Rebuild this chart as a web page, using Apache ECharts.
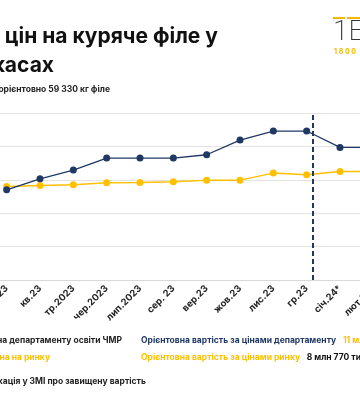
<!DOCTYPE html>
<html>
<head>
<meta charset="utf-8">
<script src="https://cdn.jsdelivr.net/npm/echarts@6/dist/echarts.min.js"></script>
<style>
html,body{margin:0;padding:0;background:#fff;}
#c{width:360px;height:400px;}
</style>
</head>
<body>
<div id="c"></div>
<script>
// ---- data ----
var categories = ['бер.23','кв.23','тр.2023','чер.2023','лип.2023','сер. 23','вер.23','жов.23','лис.23','гр.23','січ.24*','лют.24*'];
var deptPrice = [135, 151.5, 164.5, 182.5, 182.5, 182.5, 187.5, 209.5, 223, 223, 198.5, 198.5];
var marketPrice = [140, 141.5, 142.5, 145.5, 146, 147, 149.5, 149.5, 160, 157.5, 162.5, 162.5];
var seriesNames = ['Ціна департаменту освіти ЧМР', 'Ціна на ринку'];
var mediaDate = 9.17; // position (in category units) of media publication
var yTicks = {min: 0, max: 250, interval: 50};
var titleLines = ['Динаміка цін на куряче філе у', 'Черкасах'];
var subtitle = 'Закупівля орієнтовно 59 330 кг філе';
var costLabels = ['Орієнтовна вартість за цінами департаменту', 'Орієнтовна вартість за цінами ринку'];
var costValues = ['11 млн 510 тис. грн', '8 млн 770 тис. грн'];
var mediaLabel = 'Публікація у ЗМІ про завищену вартість';

var NAVY = '#1F3864', GOLD = '#FFC000', FONT = 'Inter, "Noto Sans", sans-serif';

var chart = echarts.init(document.getElementById('c'), null, {renderer: 'canvas'});
var option = {
  animation: false,
  backgroundColor: '#fff',
  grid: {left: -10, top: 113, width: 400, height: 167, containLabel: false, outerBoundsMode: 'none'},
  xAxis: [{
    type: 'category', data: categories, boundaryGap: true,
    axisLine: {lineStyle: {color: '#d9d9d9', width: 1}},
    axisTick: {show: false},
    axisLabel: {rotate: 45, interval: 0, color: '#222', fontSize: 9.5, fontWeight: 'bold', fontFamily: FONT, margin: 7}
  }, {
    type: 'value', min: -0.5, max: 11.5, show: false
  }],
  yAxis: {
    type: 'value', min: yTicks.min, max: yTicks.max, interval: yTicks.interval,
    axisLabel: {show: false}, axisLine: {show: false}, axisTick: {show: false},
    splitLine: {lineStyle: {color: '#e3e3e3', width: 1}}
  },
  series: [{
    name: seriesNames[1], type: 'line', data: marketPrice,
    symbol: 'circle', symbolSize: 7,
    itemStyle: {color: GOLD}, lineStyle: {color: GOLD, width: 1.5}
  }, {
    name: seriesNames[0], type: 'line', data: deptPrice,
    symbol: 'circle', symbolSize: 7,
    itemStyle: {color: NAVY}, lineStyle: {color: NAVY, width: 1.3}
  }, {
    name: mediaLabel, type: 'scatter', xAxisIndex: 1, data: [], symbolSize: 0,
    markLine: {
      silent: true, symbol: 'none', label: {show: false},
      lineStyle: {color: NAVY, width: 2, type: [5, 3]},
      data: [{xAxis: mediaDate}]
    }
  }],
  graphic: [
    {type: 'text', style: {text: titleLines[0], x: 218, y: 37, textAlign: 'right', textVerticalAlign: 'middle', font: 'bold 21px ' + FONT, fill: '#111'}},
    {type: 'text', style: {text: titleLines[1], x: 54, y: 66, textAlign: 'right', textVerticalAlign: 'middle', font: 'bold 21px ' + FONT, fill: '#111'}},
    {type: 'text', style: {text: subtitle, x: 110, y: 89, textAlign: 'right', textVerticalAlign: 'middle', font: 'bold 8.5px ' + FONT, fill: '#222'}},
    // legend / notes
    {type: 'text', style: {text: seriesNames[0], x: 122, y: 340, textAlign: 'right', textVerticalAlign: 'middle', font: 'bold 8.5px ' + FONT, fill: '#222'}},
    {type: 'text', style: {text: seriesNames[1], x: 50, y: 357, textAlign: 'right', textVerticalAlign: 'middle', font: 'bold 8.5px ' + FONT, fill: GOLD}},
    {type: 'text', style: {text: mediaLabel, x: 146, y: 381, textAlign: 'right', textVerticalAlign: 'middle', font: 'bold 8.5px ' + FONT, fill: '#222'}},
    {type: 'text', style: {text: '{a|' + costLabels[0] + '}  {b|' + costValues[0] + '}', x: 141, y: 340, textAlign: 'left', textVerticalAlign: 'middle',
      rich: {a: {font: 'bold 8.5px ' + FONT, fill: NAVY}, b: {font: 'bold 8.5px ' + FONT, fill: GOLD}}}},
    {type: 'text', style: {text: '{a|' + costLabels[1] + '}  {b|' + costValues[1] + '}', x: 141, y: 357, textAlign: 'left', textVerticalAlign: 'middle',
      rich: {a: {font: 'bold 8.5px ' + FONT, fill: GOLD}, b: {font: 'bold 8.5px ' + FONT, fill: '#111'}}}},
    // logo
    {type: 'rect', shape: {x: 333, y: 17, width: 12, height: 2}, style: {fill: '#F5B800'}},
    {type: 'rect', shape: {x: 347, y: 17, width: 14, height: 2}, style: {fill: '#F5B800'}},
    {type: 'text', style: {text: '1E', x: 333, y: 33, textVerticalAlign: 'middle', font: '200 28px Roboto, sans-serif', fill: '#333'}},
    {type: 'text', style: {text: '1 8 0 0', x: 334, y: 52, textVerticalAlign: 'middle', font: 'bold 7px ' + FONT, fill: '#F5B800'}}
  ]
};
chart.setOption(option);
</script>
</body>
</html>
